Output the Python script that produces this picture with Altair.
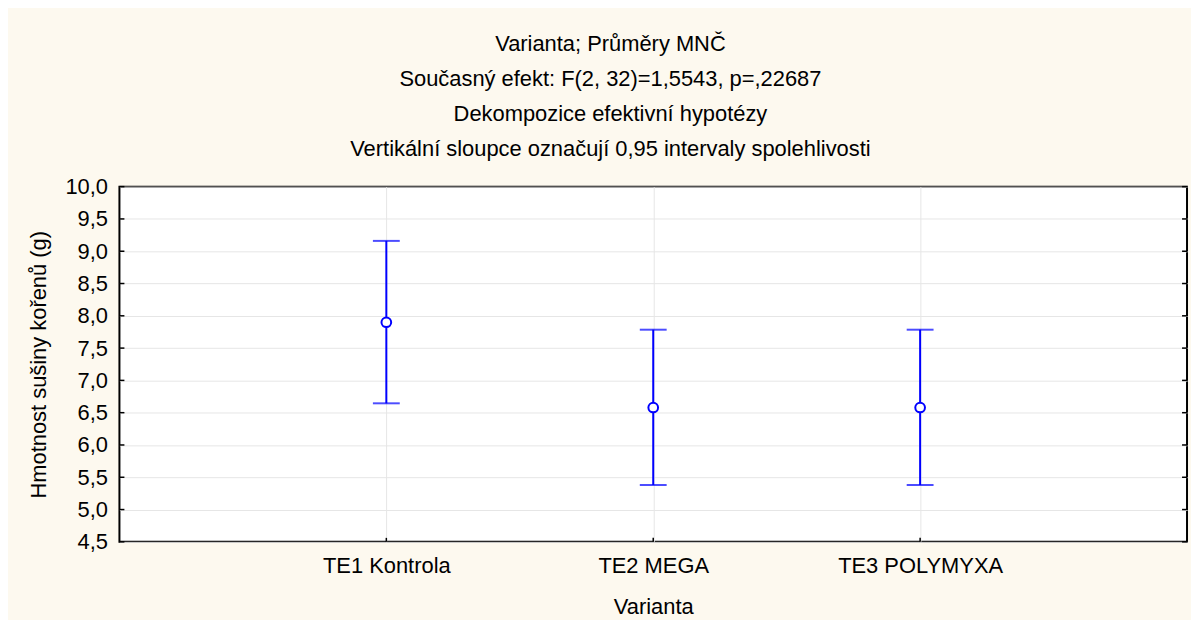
import altair as alt
import pandas as pd

categories = ["TE1 Kontrola", "TE2 MEGA", "TE3 POLYMYXA"]
means = [7.90, 6.58, 6.58]
lower = [6.645, 5.38, 5.38]
upper = [9.16, 7.785, 7.785]
y_ticks = [4.5, 5.0, 5.5, 6.0, 6.5, 7.0, 7.5, 8.0, 8.5, 9.0, 9.5, 10.0]

title_lines = [
    "Varianta; Průměry MNČ",
    "Současný efekt: F(2, 32)=1,5543, p=,22687",
    "Dekompozice efektivní hypotézy",
    "Vertikální sloupce označují 0,95 intervaly spolehlivosti",
]

W, H = 1073, 357
BLUE = "#0000ff"
FONT = "Liberation Sans"
FS = 22

df = pd.DataFrame({"cat": categories, "mean": means, "lo": lower, "hi": upper})
ticks_df = pd.DataFrame({"v": y_ticks})

xscale = alt.Scale(type="point", padding=1, domain=categories)
yscale = alt.Scale(domain=[4.5, 10.0], nice=False, zero=False)

x_axis = alt.Axis(title="Varianta", labelAngle=0, grid=True,
                  gridColor="#e6e6e6", domain=False, ticks=False,
                  labelPadding=14, titlePadding=20,
                  labelFontSize=FS, titleFontSize=FS,
                  labelFont=FONT, titleFont=FONT,
                  labelColor="#000", titleColor="#000",
                  titleFontWeight="normal")
y_axis = alt.Axis(title="Hmotnost sušiny kořenů (g)", values=y_ticks,
                  labelExpr="replace(format(datum.value, '.1f'), '.', ',')",
                  labelOverlap=False, labelSeparation=0,
                  grid=True, gridColor="#e6e6e6", domain=False, ticks=False,
                  labelPadding=12, titlePadding=14,
                  labelFontSize=FS, titleFontSize=FS,
                  labelFont=FONT, titleFont=FONT,
                  labelColor="#000", titleColor="#000",
                  titleFontWeight="normal")


def X():
    return alt.X("cat:N", scale=xscale, sort=categories, axis=x_axis)


def Y(field):
    return alt.Y(field, scale=yscale, axis=y_axis)


base = alt.Chart(df)

bars = base.mark_rule(color=BLUE, strokeWidth=2).encode(
    x=X(), y=Y("lo:Q"), y2="hi:Q")
cap_hi = base.mark_tick(color=BLUE, thickness=2, size=27, orient="horizontal").encode(
    x=X(), y=Y("hi:Q"))
cap_lo = base.mark_tick(color=BLUE, thickness=2, size=27, orient="horizontal").encode(
    x=X(), y=Y("lo:Q"))
points = base.mark_point(shape="circle", size=95, strokeWidth=2, stroke=BLUE,
                         fill="white", fillOpacity=1, opacity=1).encode(
    x=X(), y=Y("mean:Q"))

tick_base = alt.Chart(ticks_df)
left_ticks = tick_base.mark_rule(color="black", strokeWidth=1.5).encode(
    y=Y("v:Q"), x=alt.value(0), x2=alt.value(5))
right_ticks = tick_base.mark_rule(color="black", strokeWidth=1.5).encode(
    y=Y("v:Q"), x=alt.value(W - 5), x2=alt.value(W))
bottom_ticks = base.mark_rule(color="black", strokeWidth=1.5).encode(
    x=X(), y=alt.value(H - 4), y2=alt.value(H))

chart = alt.layer(bars, cap_hi, cap_lo, points, left_ticks, right_ticks, bottom_ticks).properties(
    width=W, height=H,
    title=alt.TitleParams(text=title_lines, fontSize=FS, font=FONT, fontWeight="normal",
                          color="#000", lineHeight=35, anchor="middle", dx=-43, offset=15),
    autosize=alt.AutoSizeParams(type="none"),
    padding={"left": 112, "top": 178, "right": 4, "bottom": 77},
    background="#fdf9ef",
).configure_view(stroke="black", strokeWidth=2, fill="white"
).configure_axis(labelOverlap=False)

chart.save("out.html", embed_options={"renderer": "svg", "actions": False})
